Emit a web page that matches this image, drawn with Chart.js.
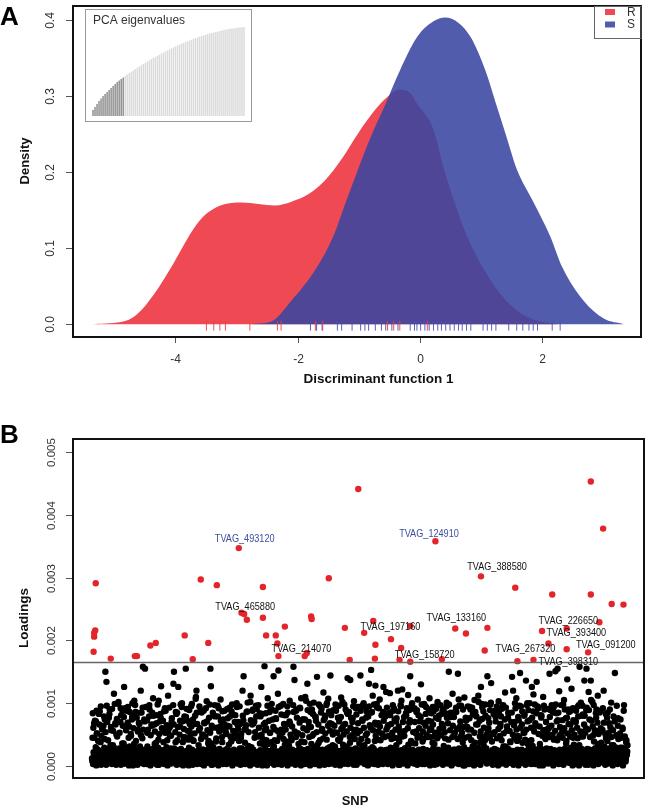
<!DOCTYPE html>
<html>
<head>
<meta charset="utf-8">
<script src="https://cdn.jsdelivr.net/npm/chart.js@4.4.1/dist/chart.umd.min.js"></script>
<style>
  html, body { margin: 0; padding: 0; background: #fff; }
  #wrap { position: relative; width: 649px; height: 806px; overflow: hidden; }
  canvas { position: absolute; }
  #cA { left: 0; top: 0; }
  #cInset { left: 85px; top: 9px; background: #fff; }
  #cB { left: 0; top: 400px; }
</style>
</head>
<body>
<div id="wrap">
  <canvas id="cA" width="649" height="400"></canvas>
  <canvas id="cInset" width="167" height="113"></canvas>
  <canvas id="cB" width="649" height="406"></canvas>
</div>
<script>
// ---- panel A: density of discriminant function 1 ----
const densX_R = [-5.33,-4.82,-4.61,-4.34,-4.07,-3.86,-3.66,-3.46,-3.18,-2.91,-2.64,-2.37,-2.10,-1.82,-1.55,-1.28,-1.01,-0.73,-0.53,-0.34,-0.16,-0.05,0.22,0.39,0.56,0.76,1.03,1.31,1.65,1.99,2.26];
const densY_R = [0,0.004,0.014,0.040,0.074,0.104,0.130,0.147,0.158,0.160,0.158,0.156,0.161,0.171,0.189,0.217,0.251,0.282,0.299,0.308,0.304,0.290,0.256,0.204,0.161,0.117,0.074,0.040,0.014,0.003,0];
const densX_S = [-2.78,-2.44,-2.10,-1.69,-1.41,-1.21,-1.01,-0.80,-0.56,-0.33,-0.05,0.22,0.41,0.63,0.83,1.07,1.24,1.41,1.58,1.85,2.12,2.33,2.67,3.01,3.33];
const densY_S = [0,0.003,0.031,0.074,0.117,0.161,0.204,0.247,0.290,0.333,0.377,0.398,0.403,0.396,0.377,0.333,0.290,0.247,0.204,0.161,0.117,0.074,0.031,0.007,0];
const rugR = [-3.49,-3.37,-3.27,-3.18,-2.78,-2.33,-2.27,-1.71,-1.59,-0.53,-0.43,-0.33,0.12];
const rugS = [-1.79,-1.69,-1.60,-1.35,-1.28,-1.11,-0.97,-0.90,-0.84,-0.73,-0.63,-0.56,-0.46,-0.36,-0.16,-0.09,-0.05,0.01,0.08,0.15,0.22,0.29,0.35,0.42,0.49,0.56,0.63,0.69,0.76,0.83,1.03,1.10,1.17,1.24,1.45,1.58,1.68,1.78,1.85,1.92,2.16,2.29];
const groups = ['R', 'S'];
const xTicksA = [-4, -2, 0, 2];
const yTicksA = [0, 0.1, 0.2, 0.3, 0.4];
const yTickLabelsA = ['0.0', '0.1', '0.2', '0.3', '0.4'];

// inset: PCA eigenvalues (cumulative), first nRetained kept
const eigenCum = [6,9,12,15,17.5,20,22,24,26,28,30,32,34,35.5,37,38.5,40,41.5,43,44.3,45.6,46.9,48.2,49.5,50.7,52,53.2,54.4,55.6,56.8,58,59.1,60.2,61.3,62.4,63.5,64.6,65.6,66.6,67.6,68.6,69.6,70.5,71.4,72.3,73.2,74,74.8,75.6,76.4,77.2,77.9,78.6,79.3,80,80.7,81.3,81.9,82.5,83.1,83.6,84.1,84.6,85.1,85.6,86,86.4,86.8,87.2,87.5,87.8,88.1,88.4,88.6,88.8,89];
const nRetained = 16;

// ---- panel B: SNP loadings (units of 1e-5) ----
// even-numbered SNPs
const snpLoadEven = [
  12,45,3,22,68,8,17,30,1,52,14,26,6,83,19,9,38,2,24,60,11,15,4,29,74,150,7,134,20,13,41,5,27,90,10,18,57,3,23,33,16,115,8,25,66,2,14,47,21,99,
  5,28,14,70,2,19,9,88,23,36,126,11,4,17,62,25,8,94,13,1,31,20,6,48,16,79,3,22,10,104,27,7,40,15,18,2,58,12,24,9,85,120,5,21,44,158,14,3,26,155,
  9,20,3,53,15,26,7,97,12,1,24,66,18,5,108,10,22,35,4,16,81,27,8,13,42,2,19,71,11,127,6,25,14,59,21,3,92,17,9,30,23,1,112,13,7,49,20,28,4,76,
  14,6,131,150,22,9,38,17,2,85,25,126,11,4,63,19,27,8,100,15,1,46,21,12,7,155,24,3,72,16,10,29,55,5,18,95,13,26,2,41,20,8,67,14,110,120,3,23,11,33,
  7,24,15,89,3,19,50,11,26,1,68,13,8,22,103,17,5,36,28,9,14,155,127,2,20,61,12,25,6,97,18,4,44,10,23,79,1,16,27,8,106,21,13,38,3,74,19,11,25,57,
  18,3,27,64,10,21,5,93,15,8,39,24,1,82,13,26,6,51,19,11,100,4,22,70,14,9,28,2,45,17,12,120,7,143,20,25,3,58,16,10,87,23,5,31,18,1,112,13,26,66,
  11,26,4,71,19,8,96,14,22,2,47,17,6,84,25,10,126,13,1,35,20,9,159,27,15,60,3,18,108,12,24,7,53,16,5,90,21,11,28,143,2,41,19,76,8,23,14,115,152,6,
  23,9,16,58,2,27,12,99,5,20,34,14,81,8,25,1,67,18,11,104,22,4,45,15,26,7,158,13,137,19,3,88,10,24,52,6,17,28,93,12,1,39,21,9,74,16,25,3,110,14,
  15,4,131,27,10,63,19,1,86,22,13,48,7,25,101,16,3,29,72,11,142,20,8,37,14,24,95,5,18,56,26,9,117,12,2,80,21,15,42,6,23,107,17,10,68,144,4,27,13,33,
  8,21,54,13,2,90,25,17,6,77,19,11,40,1,24,109,14,9,62,27,4,98,16,22,31,10,85,140,3,20,12,46,137,7,26,15,70,18,5,103,23,11,28,58,2,16,94,9,24,36,
  20,144,6,27,13,72,9,100,24,3,17,49,11,86,25,1,15,131,8,22,61,153,4,19,112,12,27,5,40,128,16,10,93,23,2,68,18,106,7,26,14,52,21,3,126,11,80,25,9,118,
  12,26,3,65,18,9,116,22,5,43,15,1,88,27,11,74,20,7,33,14,24,120,2,57,17,10,97,25,6,122,13,19,4,48,28,8,84,21,15,1,113,11,69,24,143,16,5,37,26,9,
  17,4,92,23,10,55,19,2,106,14,26,8,71,12,130,21,6,39,27,15,99,3,18,83,11,25,7,46,20,13,108,1,24,60,16,9,94,28,5,35,22,12,77,18,3,102,26,10,50,15,
  6,24,13,67,19,2,90,27,11,44,16,8,101,21,4,29,150,14,25,9,78,1,18,115,12,26,5,53,20,10,86,23,15,147,3,28,62,17,7,96,22,11,38,1,24,109,13,19,72,8,
  25,10,58,16,3,94,21,13,41,7,27,82,18,1,105,14,23,66,9,20,5,112,26,12,47,2,126,17,75,24,11,33,8,19,98,15,28,4,143,22,60,13,6,89,18,132,10,25,2,51,
  13,27,6,79,20,9,44,16,1,103,24,11,63,18,4,91,26,14,31,7,22,117,12,2,56,19,28,85,10,25,5,38,15,21,142,8,120,17,3,70,23,13,108,9,26,48,1,18,96,148,
  19,5,26,87,12,21,8,53,15,2,136,24,10,71,17,27,4,100,13,22,41,126,6,18,114,11,25,3,64,20,134,9,16,92,27,1,35,14,23,80,7,19,110,12,26,46,4,17,58,21,
  10,23,4,61,147,16,27,8,97,13,20,1,42,25,18,151,6,84,22,155,11,3,119,26,14,50,9,19,73,24,2,105,15,28,7,36,21,138,12,90,5,17,27,66,10,123,23,1,45,16,
  26,12,3,70,18,24,8,95,14,1,158,21,10,47,27,5,82,16,22,136,11,2,60,155,19,25,7,118,13,26,4,136,17,9,102,23,1,39,15,28,6,77,20,12,112,3,24,56,18,88,
  14,21,6,55,17,120,9,25,2,83,19,12,40,26,4,68,15,22,8,101,11,27,1,33,18,7,148,24,13,49,20,3,76,16,26,10,29,5,22,14,61,1,19,97,11,25,7,38,17,23
];
// odd-numbered SNPs
const snpLoadOdd = [
  8,84,61,17,45,72,3,71,88,52,21,40,13,66,87,5,95,48,24,58,11,64,79,43,19,54,2,96,70,27,15,77,83,9,33,62,22,91,6,56,30,14,99,68,18,50,75,26,12,102,
  27,53,10,92,81,19,36,64,4,78,30,92,15,57,88,23,69,7,45,63,86,12,51,28,74,100,1,60,35,20,97,86,16,77,25,55,9,69,67,31,14,49,85,22,93,58,6,74,71,18,
  94,16,73,31,58,5,79,90,22,49,13,64,85,27,80,8,66,55,19,37,68,2,98,29,104,51,15,83,76,24,60,11,72,38,87,20,53,88,3,65,41,17,57,26,93,62,10,48,70,23,
  19,97,66,28,9,54,86,83,14,41,62,25,3,50,72,98,18,94,71,38,7,59,79,46,12,78,91,21,56,42,1,89,67,48,15,63,99,23,74,40,6,52,80,107,17,85,67,24,11,57,
  95,60,13,43,85,26,50,4,88,69,21,47,92,16,71,57,9,40,77,98,53,18,36,64,2,85,30,81,23,79,11,39,61,25,96,14,92,55,7,63,72,20,46,87,58,12,67,88,24,51,
  52,23,91,76,10,34,63,79,47,15,87,98,5,56,44,20,70,81,13,49,94,66,59,8,40,95,67,17,51,28,3,80,73,22,58,37,11,65,86,19,101,32,54,24,6,102,73,30,16,88,
  90,68,14,45,54,22,79,91,7,48,97,61,18,36,79,4,50,83,43,24,66,12,57,69,84,41,1,96,35,20,72,86,53,9,38,99,17,74,62,31,15,58,88,75,21,40,3,55,94,13,
  47,11,96,82,25,53,16,43,67,81,6,58,39,22,95,85,14,33,71,68,50,9,41,63,19,97,86,24,55,2,46,90,77,13,52,35,18,69,92,27,108,8,49,74,60,21,38,74,15,104,
  24,57,89,12,70,46,99,5,62,35,90,18,83,51,27,8,79,78,21,54,33,14,66,98,1,41,25,85,91,59,17,44,73,10,76,52,22,97,100,28,64,3,87,30,56,19,81,67,13,50,
  89,15,64,31,98,88,22,53,7,42,96,71,19,45,78,59,11,102,34,50,25,4,67,90,16,55,30,83,21,86,9,37,61,77,13,49,76,95,2,57,43,20,92,82,18,52,68,26,94,10,
  56,88,43,9,74,97,18,61,33,94,24,77,5,52,40,79,15,95,65,27,12,85,86,30,57,21,98,3,69,48,66,99,16,42,55,92,7,63,41,23,81,14,50,86,72,19,46,79,11,58,
  93,62,20,48,85,13,81,29,67,6,53,97,24,92,45,17,58,71,76,10,44,87,63,39,2,51,95,104,22,47,70,15,78,56,28,8,81,92,19,60,34,12,89,73,25,40,96,100,16,54,
  91,14,70,36,52,86,89,45,9,81,60,21,48,78,17,98,3,55,43,69,97,12,64,94,50,24,7,72,90,19,57,46,71,84,11,37,66,87,47,2,53,95,91,22,44,16,75,80,59,13,
  97,49,83,18,89,61,32,6,54,84,23,95,77,15,68,42,98,10,57,85,79,20,46,64,4,78,51,26,88,93,13,59,43,21,106,96,8,71,47,25,53,16,90,62,30,1,45,77,24,74,
  62,95,11,47,76,25,90,58,19,93,31,84,7,53,37,86,22,79,14,66,29,102,3,72,38,55,17,99,93,46,87,61,12,41,80,24,50,9,57,76,20,69,45,98,101,15,39,52,6,83,
  18,54,88,71,26,95,89,13,59,84,5,48,67,79,41,22,96,97,52,16,74,31,93,8,63,27,77,84,20,56,39,11,70,85,24,50,2,65,44,100,92,17,58,40,14,78,73,46,25,61,
  95,21,66,37,9,53,80,82,42,16,58,97,100,35,89,12,73,40,24,61,3,77,32,87,19,55,98,68,26,84,7,95,94,51,15,63,29,81,77,23,48,1,57,96,90,18,43,70,28,52,
  91,59,14,46,78,89,24,64,6,50,85,93,20,43,56,98,10,71,41,73,85,17,48,62,25,97,4,54,45,98,22,60,90,13,76,40,77,52,8,67,86,19,47,88,29,57,11,92,73,34,
  50,26,72,88,15,61,44,79,97,33,8,55,101,22,80,96,47,12,66,80,53,19,89,93,27,58,2,89,74,46,24,105,72,14,63,49,97,9,57,28,84,90,18,69,35,51,6,85,31,60,
  37,16,58,92,25,69,31,9,50,44,21,77,85,13,53,28,90,62,18,46,33,5,57,79,24,71,30,12,48,96,20,64,43,27,8,52,74,17,45,29,59,22,88,14,47,26,11,41,19,33
];
// SNPs above the threshold (SNP number, loading in 1e-5)
const redIdx  = [14,12,8,8,6,70,160,168,218,238,346,376,406,434,466,548,558,568,578,638,638,650,686,692,696,720,794,802,818,820,884,944,962,994,1016,1050,1058,1056,1116,1148,1154,1188,1188,1282,1306,1356,1396,1452,1466,1476,1580,1588,1648,1680,1704,1718,1772,1772,1852,1862,1862,1894,1908,1940,1984];
const redLoad = [291,216,212,206,182,171,175,175,192,196,208,170,297,196,288,347,244,242,233,285,236,208,208,195,175,222,175,180,238,234,299,220,169,441,212,231,193,171,202,169,188,166,223,358,170,219,211,302,184,220,284,167,169,215,195,273,219,186,181,453,273,229,378,258,257];
const labelNames = ['TVAG_493120','TVAG_124910','TVAG_388580','TVAG_465880','TVAG_214070','TVAG_197160','TVAG_133160','TVAG_158720','TVAG_267320','TVAG_226650','TVAG_393400','TVAG_091200','TVAG_398310'];
const labelIdx  = [570,1258,1512,572,782,1114,1360,1242,1618,1778,1808,1918,1778];
const labelLoad = [361,369,317,253,187,221,235,177,187,231,212,192,165];
const labelBlue = [true,true,false,false,false,false,false,false,false,false,false,false,false];
const threshold = 0.00165;
const yTicksB = [0, 0.001, 0.002, 0.003, 0.004, 0.005];
const yTickLabelsB = ['0.000','0.001','0.002','0.003','0.004','0.005'];

const SANS = '"Liberation Sans", Arial, Helvetica, sans-serif';
const RED = 'rgb(239,74,84)';
const BLUE = 'rgba(58,70,160,0.88)';

function txt(ctx, s, x, y, font, color, align, base, rot, sx) {
  ctx.save();
  ctx.translate(x, y);
  if (rot) ctx.rotate(rot);
  if (sx) ctx.scale(sx, 1);
  ctx.font = font;
  ctx.fillStyle = color;
  ctx.textAlign = align || 'center';
  ctx.textBaseline = base || 'middle';
  ctx.fillText(s, 0, 0);
  ctx.restore();
}
function seg(ctx, x1, y1, x2, y2) {
  ctx.beginPath(); ctx.moveTo(x1, y1); ctx.lineTo(x2, y2); ctx.stroke();
}

const frameA = {
  id: 'frameA',
  afterDraw(chart) {
    const { ctx, chartArea: ca } = chart;
    const xs = chart.scales.x, ys = chart.scales.y;
    ctx.save();
    ctx.strokeStyle = '#555'; ctx.lineWidth = 1;
    xTicksA.forEach(v => {
      const px = Math.round(xs.getPixelForValue(v)) + 0.5;
      seg(ctx, px, ca.bottom, px, ca.bottom + 6);
      txt(ctx, String(v), px, 359.5, '12px ' + SANS, '#333');
    });
    yTicksA.forEach((v, i) => {
      const py = Math.round(ys.getPixelForValue(v)) + 0.5;
      seg(ctx, ca.left - 7, py, ca.left, py);
      txt(ctx, yTickLabelsA[i], 50.5, py, '12px ' + SANS, '#333', 'center', 'middle', -Math.PI / 2);
    });
    ctx.strokeStyle = '#111'; ctx.lineWidth = 2;
    ctx.strokeRect(ca.left, ca.top, ca.right - ca.left, ca.bottom - ca.top);
    txt(ctx, 'Discriminant function 1', 378.5, 379.5, 'bold 13.5px ' + SANS, '#111');
    txt(ctx, 'Density', 25, 161, 'bold 13px ' + SANS, '#111', 'center', 'middle', -Math.PI / 2);
    txt(ctx, 'A', 0, 25, 'bold 26px ' + SANS, '#000', 'left', 'alphabetic');
    // legend
    ctx.strokeStyle = '#666'; ctx.lineWidth = 1;
    ctx.strokeRect(594.5, ca.top + 0.5, ca.right - 594.5, 32);
    [RED, BLUE].forEach((c, i) => {
      ctx.fillStyle = c;
      ctx.fillRect(605, 9 + i * 12.5, 10, 6);
      txt(ctx, groups[i], 627, 12.5 + i * 12.5, '12px ' + SANS, '#333', 'left', 'middle');
    });
    ctx.restore();
  }
};

new Chart(document.getElementById('cA'), {
  type: 'line',
  data: {
    datasets: [
      { type: 'scatter', data: rugR.map(x => ({ x, y: -0.002 })), pointStyle: 'line', rotation: 90, pointRadius: 5,
        borderColor: 'rgba(239,60,70,0.9)', pointBorderWidth: 1, order: 0 },
      { type: 'scatter', data: rugS.map(x => ({ x, y: -0.002 })), pointStyle: 'line', rotation: 90, pointRadius: 5,
        borderColor: 'rgba(70,80,180,0.9)', pointBorderWidth: 1, order: 0 },
      { data: densX_S.map((x, i) => ({ x, y: densY_S[i] })), fill: 'origin', backgroundColor: BLUE,
        borderWidth: 0, borderColor: 'rgba(0,0,0,0)', pointRadius: 0, cubicInterpolationMode: 'monotone', order: 1 },
      { data: densX_R.map((x, i) => ({ x, y: densY_R[i] })), fill: 'origin', backgroundColor: RED,
        borderWidth: 0, borderColor: 'rgba(0,0,0,0)', pointRadius: 0, cubicInterpolationMode: 'monotone', order: 2 }
    ]
  },
  options: {
    responsive: false, animation: false, events: [],
    layout: { padding: { left: 73, right: 8, top: 2, bottom: 63 } },
    plugins: { legend: { display: false }, tooltip: { enabled: false } },
    scales: {
      x: { type: 'linear', min: -5.67, max: 3.611, display: false },
      y: { type: 'linear', min: -0.0169, max: 0.4182, display: false }
    }
  },
  plugins: [frameA]
});

const frameInset = {
  id: 'frameInset',
  afterDraw(chart) {
    const ctx = chart.ctx;
    ctx.save();
    ctx.strokeStyle = '#999'; ctx.lineWidth = 1;
    ctx.strokeRect(0.5, 0.5, chart.width - 1, chart.height - 1);
    txt(ctx, 'PCA eigenvalues', 8, 12, '12px ' + SANS, '#333', 'left', 'middle');
    ctx.restore();
  }
};

new Chart(document.getElementById('cInset'), {
  type: 'bar',
  data: {
    labels: eigenCum.map((_, i) => i + 1),
    datasets: [{
      data: eigenCum,
      backgroundColor: eigenCum.map((_, i) => i < nRetained ? '#8c8c8c' : '#dadada'),
      barPercentage: 0.72, categoryPercentage: 1, borderWidth: 0
    }]
  },
  options: {
    responsive: false, animation: false, events: [],
    layout: { padding: { left: 7, right: 7, top: 18, bottom: 6 } },
    plugins: { legend: { display: false }, tooltip: { enabled: false } },
    scales: { x: { display: false }, y: { display: false, min: 0, max: 89 } }
  },
  plugins: [frameInset]
});

const frameB = {
  id: 'frameB',
  afterDraw(chart) {
    const { ctx, chartArea: ca } = chart;
    const xs = chart.scales.x, ys = chart.scales.y;
    ctx.save();
    const ty = Math.round(ys.getPixelForValue(threshold)) + 0.5;
    ctx.strokeStyle = '#666'; ctx.lineWidth = 1.3;
    seg(ctx, ca.left, ty, ca.right, ty);
    labelNames.forEach((s, i) => {
      txt(ctx, s, xs.getPixelForValue(labelIdx[i]), ys.getPixelForValue(labelLoad[i] * 1e-5),
        '11px ' + SANS, labelBlue[i] ? '#3b4f9e' : '#111', 'center', 'middle', 0, 0.83);
    });
    ctx.strokeStyle = '#555'; ctx.lineWidth = 1;
    yTicksB.forEach((v, i) => {
      const py = Math.round(ys.getPixelForValue(v)) + 0.5;
      seg(ctx, ca.left - 7, py, ca.left, py);
      txt(ctx, yTickLabelsB[i], 52, py, '11.5px ' + SANS, '#333', 'center', 'middle', -Math.PI / 2);
    });
    ctx.strokeStyle = '#111'; ctx.lineWidth = 2;
    ctx.strokeRect(ca.left, ca.top, ca.right - ca.left, ca.bottom - ca.top);
    txt(ctx, 'Loadings', 24.5, 218, 'bold 13.5px ' + SANS, '#111', 'center', 'middle', -Math.PI / 2);
    txt(ctx, 'SNP', 355, 401.5, 'bold 13px ' + SANS, '#111');
    txt(ctx, 'B', 0, 43, 'bold 26px ' + SANS, '#000', 'left', 'alphabetic');
    ctx.restore();
  }
};

const blackPts = [];
snpLoadEven.forEach((v, i) => blackPts.push({ x: 2 * i, y: v * 1e-5 }));
snpLoadOdd.forEach((v, i) => blackPts.push({ x: 2 * i + 1, y: v * 1e-5 }));

new Chart(document.getElementById('cB'), {
  type: 'scatter',
  data: {
    datasets: [
      { data: redIdx.map((x, i) => ({ x, y: redLoad[i] * 1e-5 })), pointRadius: 3.2, pointBorderWidth: 0,
        pointBackgroundColor: '#e3242b', order: 0 },
      { data: blackPts, pointRadius: 3.2, pointBorderWidth: 0, pointBackgroundColor: '#000', order: 1 }
    ]
  },
  options: {
    responsive: false, animation: false, events: [],
    layout: { padding: { left: 73, right: 5, top: 39, bottom: 28 } },
    plugins: { legend: { display: false }, tooltip: { enabled: false } },
    scales: {
      x: { type: 'linear', min: -70.9, max: 2060.6, display: false },
      y: { type: 'linear', min: -0.000191, max: 0.005207, display: false }
    }
  },
  plugins: [frameB]
});
</script>
</body>
</html>
